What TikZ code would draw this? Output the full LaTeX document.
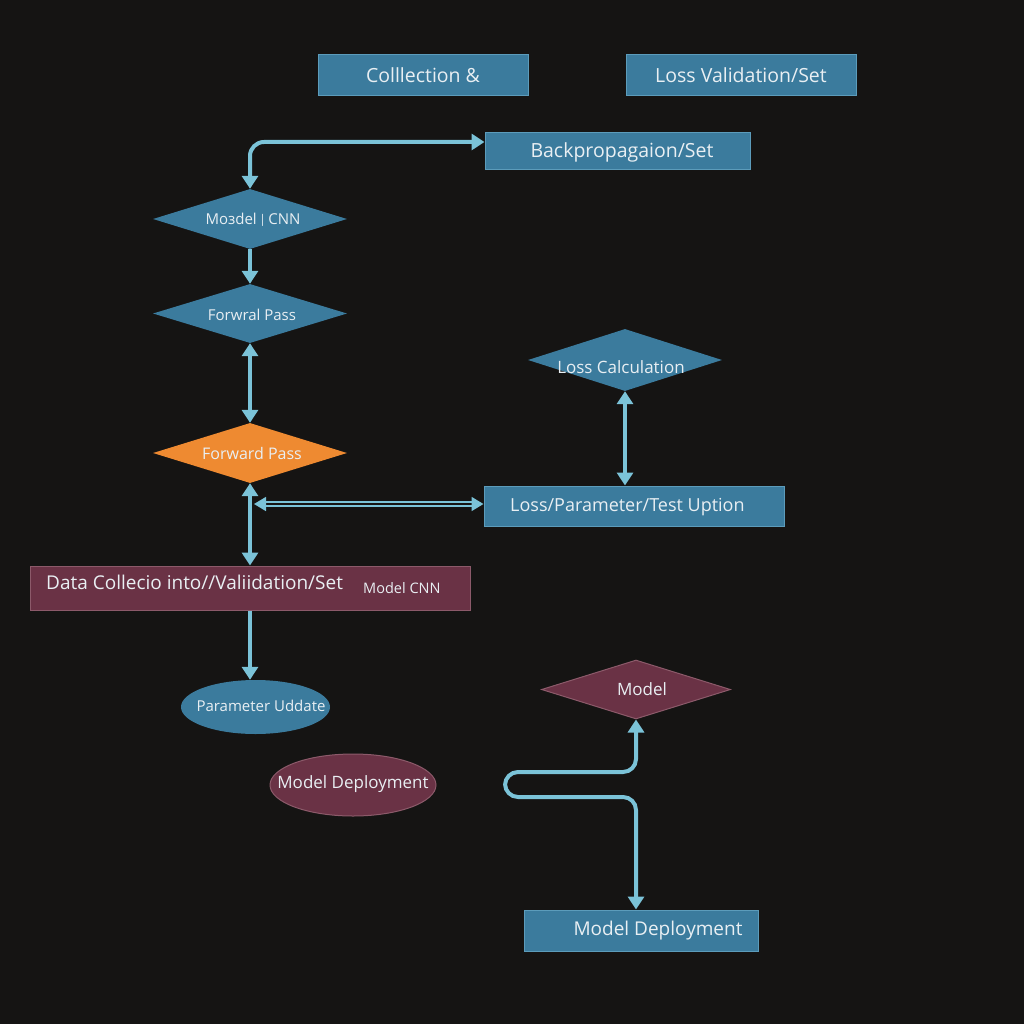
\documentclass[tikz,border=0pt]{standalone}
\usepackage{fontspec}
\setmainfont{Open Sans}
\usetikzlibrary{shapes.geometric,arrows.meta}
\definecolor{bg}{HTML}{151413}
\definecolor{bluefill}{HTML}{3B7B9D}
\definecolor{blueedge}{HTML}{5C9CBB}
\definecolor{maroonfill}{HTML}{6A3245}
\definecolor{maroonedge}{HTML}{8C5A6A}
\definecolor{orangefill}{HTML}{EE8A31}
\definecolor{link}{HTML}{7BC3D8}
\definecolor{ink}{HTML}{E9EFF3}
\tikzset{
  bluebox/.style={rectangle, fill=bluefill, draw=blueedge, line width=1pt, inner sep=0pt},
  maroonbox/.style={rectangle, fill=maroonfill, draw=maroonedge, line width=1pt, inner sep=0pt},
  bluediam/.style={diamond, fill=bluefill, draw=none, inner sep=0pt, aspect=3},
  maroondiam/.style={diamond, fill=maroonfill, draw=maroonedge, line width=1pt, inner sep=0pt, aspect=3},
  orangediam/.style={diamond, fill=orangefill, draw=none, inner sep=0pt, aspect=3},
  txt/.style={text=ink, inner sep=0pt, font=\fontsize{#1}{#1}\selectfont},
  flow/.style={draw=link, line width=4pt, {Triangle[width=16pt,length=13pt]}-{Triangle[width=16pt,length=13pt]}},
  flowend/.style={draw=link, line width=4pt, -{Triangle[width=16pt,length=13pt]}}
}
\begin{document}
\begin{tikzpicture}[x=1pt,y=-1pt]
  \useasboundingbox (0,0) rectangle (1024,1024);
  \fill[bg] (0,0) rectangle (1024,1024);

  % top row of boxes
  \node[bluebox, minimum width=210pt, minimum height=41pt, txt=19.5] (coll) at (423,75.5) {Colllection \&};
  \node[bluebox, minimum width=230pt, minimum height=41pt, txt=19.5] (lossval) at (741,75.5) {Loss Validation/Set};
  \node[bluebox, minimum width=265pt, minimum height=37pt] (backprop) at (617.5,151.5) {};
  \node[txt=19.5] (backproptext) at (622,152) {Backpropagaion/Set};

  % left column
  \node[bluediam, minimum width=194pt, minimum height=60pt] (mcnn) at (250,219) {};
  \node[txt=15] (mcnntext) at (253,220) {Moзdel\,{\fontsize{12}{12}\selectfont\raisebox{1pt}{|}}\,CNN};
  \node[bluediam, minimum width=194pt, minimum height=59pt] (fwd1) at (250,313.5) {};
  \node[txt=15] (fwd1text) at (252,315) {Forwral Pass};
  \node[orangediam, minimum width=194pt, minimum height=60pt] (fwd2) at (250,453) {};
  \node[txt=16] (fwd2text) at (252,453) {Forward Pass};

  \node[maroonbox, minimum width=440pt, minimum height=44pt] (data) at (250,588) {};
  \node[txt=19, anchor=west] (datatext) at (46,582) {Data Collecio into//Valiidation/Set};
  \node[txt=14.5, anchor=west] (datacnn) at (363,588) {Model CNN};

  \node[ellipse, fill=bluefill, inner sep=0pt, minimum width=149pt, minimum height=54pt] (param) at (255.5,707) {};
  \node[txt=15] (paramtext) at (261,706) {Parameter Uddate};

  \node[ellipse, fill=maroonfill, draw=maroonedge, line width=1pt, inner sep=0pt, minimum width=166pt, minimum height=62pt] (deploy1) at (353,785) {};
  \node[txt=17] (deploy1text) at (353,784) {Model Deployment};

  % right column
  \node[bluediam, minimum width=194pt, minimum height=62pt] (losscalc) at (625,360) {};
  \node[txt=17] (losscalctext) at (621,367) {Loss Calculation};
  \node[bluebox, minimum width=300pt, minimum height=40pt] (lpt) at (634,506) {};
  \node[txt=18, anchor=west] (lpttext) at (510,507) {Loss/Parameter/Test Uption};

  \node[maroondiam, minimum width=189pt, minimum height=59pt] (model) at (636,689.5) {};
  \node[txt=17] (modeltext) at (642,689) {Model};

  \node[bluebox, minimum width=234pt, minimum height=41pt] (deploy2) at (641,930.5) {};
  \node[txt=19] (deploy2text) at (658,931) {Model Deployment};

  % connectors
  \draw[flow, rounded corners=14pt] ([yshift=9.5pt]backprop.west) -- (250,142) -- (mcnn.north);
  \draw[flowend] (mcnn.south) -- (fwd1.north);
  \draw[flow] (fwd1.south) -- (fwd2.north);
  \draw[flow] (losscalc.south) -- (losscalc.south |- lpt.north);
  \draw[flow] (fwd2.south) -- (data.north);
  \coordinate (junction) at (254,504);
  \draw[draw=link, line width=1.6pt, double=bg, double distance=2.2pt,
        {Triangle[width=14pt,length=12pt]}-{Triangle[width=14pt,length=12pt]}] (junction) -- (lpt.west |- junction);
  \draw[flowend] (data.south) -- (param.north -| data.south);
  \draw[flow, rounded corners=13pt] (deploy2.north -| model.south) -- (636,797) -- (505,797) -- (505,772) -- (636,772) -- (model.south);
\end{tikzpicture}
\end{document}
